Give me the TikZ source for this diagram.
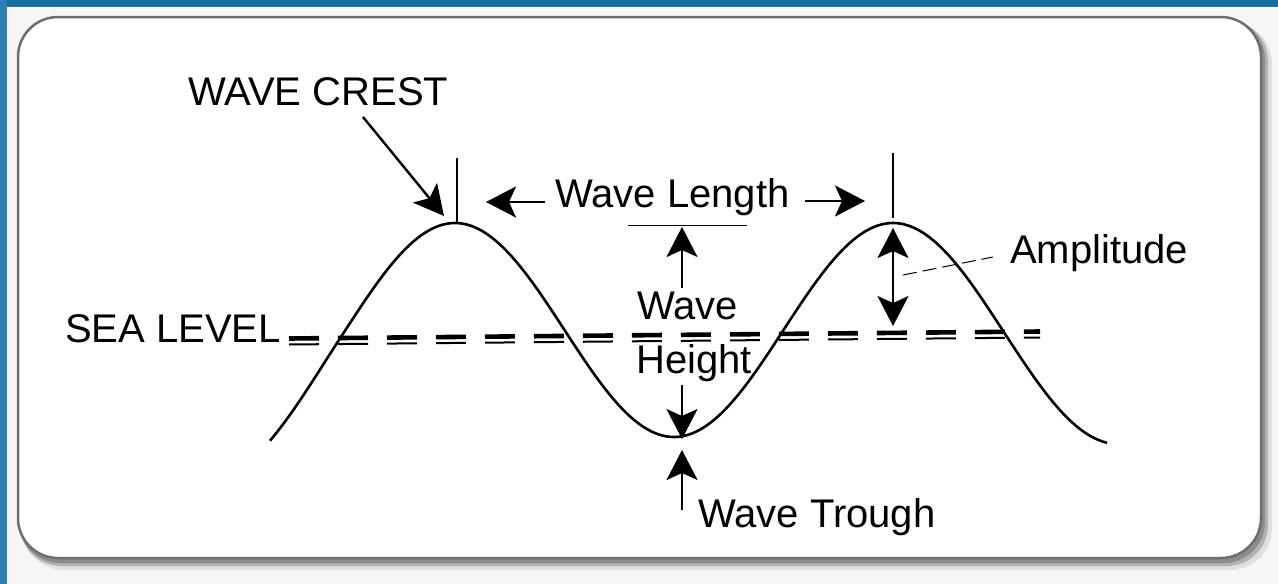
\documentclass[tikz,border=0pt]{standalone}
\usepackage{fontspec}
\setmainfont{Liberation Sans}
\usetikzlibrary{arrows.meta}
\definecolor{bandblue}{HTML}{17709F}
\definecolor{bandblueL}{HTML}{2A80B0}
\definecolor{outbg}{HTML}{F6F6F6}
\definecolor{boxline}{HTML}{6E6E6E}
\tikzset{
  lbl/.style={inner sep=0pt, anchor=base west, font=\fontsize{40}{48}\selectfont},
  arr/.style={line width=2.4pt, -{Stealth[length=30pt,width=31pt,inset=7pt]}},
  dbl/.style={line width=2.4pt, {Stealth[length=30pt,width=31pt,inset=7pt]}-{Stealth[length=30pt,width=31pt,inset=7pt]}},
  tick/.style={line width=2.2pt},
  wavecurve/.style={line width=2.6pt, line join=round},
  seadash/.style={dash pattern=on 30pt off 19pt},
}
\begin{document}
\begin{tikzpicture}[x=1pt,y=-1pt]
\useasboundingbox (0,0) rectangle (1278,584);
% background
\fill[outbg] (0,0) rectangle (1278,584);
\fill[bandblue] (0,0) rectangle (1278,7);
\fill[bandblueL] (0,0) rectangle (7,584);
% shadow and box
\fill[black!12, rounded corners=42] (22,22) rectangle (1272,570);
\fill[black!30, rounded corners=41] (20,20) rectangle (1268,566);
\fill[black!45, rounded corners=41] (19,19) rectangle (1265,563);
\draw[line width=2.5pt, draw=boxline, fill=white, rounded corners=40] (18,17) rectangle (1261,558);
% wave
\draw[wavecurve] plot[domain=270:1107, samples=260, smooth]
  (\x, {330 - 107*cos((\x-455)/438*360) + 0.0033*(max(0,340-\x))^2 + 0.00064*(max(0,\x-1010))^2});
% sea level double dashed line
\coordinate (sl1) at (289,338.5);
\coordinate (sl2) at (1040,331.5);
\coordinate (sl3) at (289,344.5);
\coordinate (sl4) at (1040,337.5);
\draw[seadash, line width=4.6pt] (sl1) -- (sl2);
\draw[seadash, line width=2pt] (sl3) -- (sl4);
% labels
\node[lbl] (crest) at (188,105) {WAVE CREST};
\node[lbl] (wl) at (555,207) {Wave Length};
\node[lbl] (amp) at (1010,263) {Amplitude};
\node[lbl] (wave) at (637,319) {Wave};
\node[lbl] (height) at (636,373) {Height};
\node[lbl] (trough) at (698,527) {Wave Trough};
\node[lbl] (sea) at (65,342) {SEA LEVEL};
% key points
\coordinate (c1top) at (457,158);
\coordinate (c1) at (457,223);
\coordinate (c2top) at (893,153);
\coordinate (c2) at (893,218);
% crest arrow
\coordinate (cs) at (363,117);
\coordinate (ct) at (444,216);
\draw[arr] (cs) -- (ct);
% ticks
\draw[tick] (c1top) -- (c1);
\draw[tick] (c2top) -- (c2);
% wave length arrows
\coordinate (wlA) at (545,202);
\coordinate (wlAt) at (486,202);
\coordinate (wlB) at (805,201);
\coordinate (wlBt) at (865,201);
\draw[arr] (wlA) -- (wlAt);
\draw[arr] (wlB) -- (wlBt);
% wave height
\coordinate (hl1) at (628,225);
\coordinate (hl2) at (747,225);
\draw[line width=1pt] (hl1) -- (hl2);
\coordinate (wh1) at (682,288);
\coordinate (wh1t) at (682,227);
\draw[arr] (wh1) -- (wh1t);
\coordinate (wh2) at (682,385);
\coordinate (wh2t) at (682,439);
\draw[arr] (wh2) -- (wh2t);
\coordinate (wt) at (682,510);
\coordinate (wtt) at (682,450);
\draw[arr] (wt) -- (wtt);
% amplitude
\coordinate (a1) at (893,228);
\coordinate (a2) at (893,326);
\draw[dbl] (a1) -- (a2);
\coordinate (al1) at (903,275);
\coordinate (al2) at (993,257);
\draw[line width=1pt, dash pattern=on 14pt off 6pt] (al1) -- (al2);
\end{tikzpicture}
\end{document}
